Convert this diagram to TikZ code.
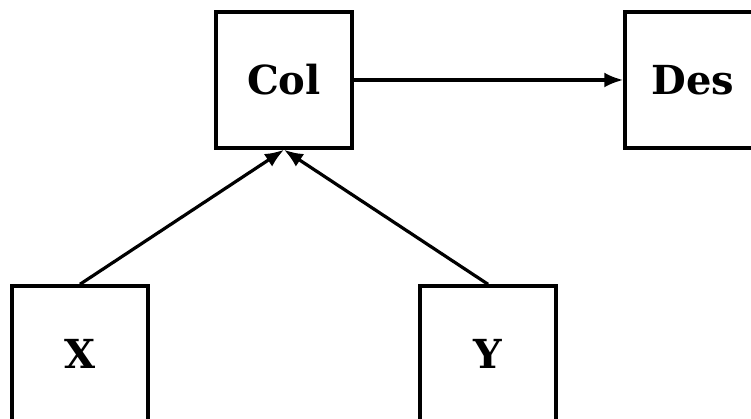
\documentclass[tikz,border=0pt]{standalone}
\usepackage{fontspec}
\setmainfont{DejaVu Serif}
\usetikzlibrary{arrows.meta}
\begin{document}
\begin{tikzpicture}[x=1pt,y=-1pt,
  box/.style={draw=black,line width=3.5pt,minimum width=136pt,minimum height=136pt,inner sep=0pt,font=\fontsize{40}{46}\selectfont\bfseries},
  conn/.style={line width=3.2pt,-{Latex[length=19pt,width=15pt]}}]
\useasboundingbox (0,0) rectangle (751,419);
\node[box] (col) at (284,80) {Col};
\node[box] (des) at (693,80) {Des};
\node[box] (x) at (80,354) {X};
\node[box] (y) at (488,354) {Y};
\draw[conn] (x.north) -- (col.south);
\draw[conn] (y.north) -- (col.south);
\draw[conn] (col.east) -- (des.west);
\end{tikzpicture}
\end{document}
